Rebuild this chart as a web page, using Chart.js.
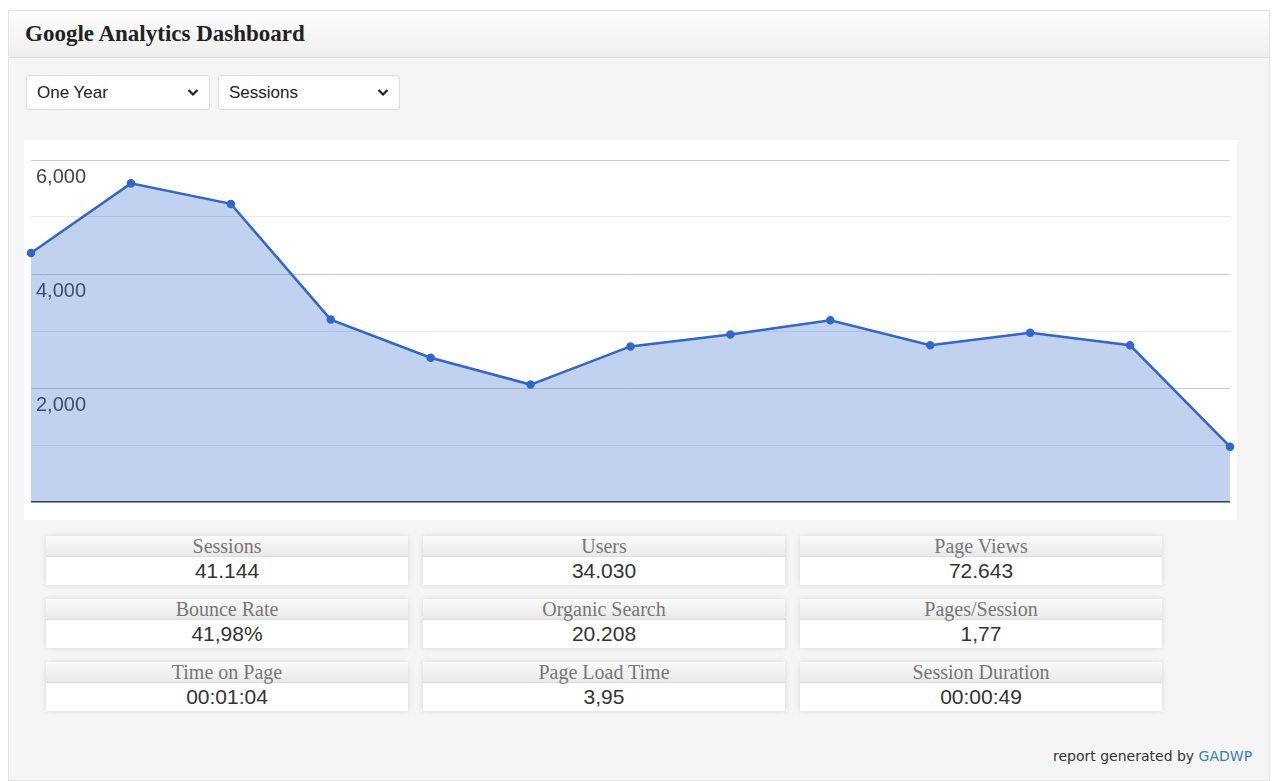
<!DOCTYPE html>
<html>
<head>
<meta charset="utf-8">
<script src="https://cdn.jsdelivr.net/npm/chart.js@4.4.1/dist/chart.umd.min.js"></script>
<style>
  body { margin: 0; background: #fff; font-family: Arial, "Liberation Sans", sans-serif; }
  #panel { position: absolute; left: 8px; top: 10px; width: 1262px; height: 771px; background: #f5f5f5; border: 1px solid #e2e2e2; box-sizing: border-box; }
  #head { position: absolute; left: 0; top: 0; right: 0; height: 46px; background: linear-gradient(#fdfdfd, #efefef); border-bottom: 1px solid #dedede; }
  #head h2 { margin: 0; position: absolute; left: 16px; top: 10px; font: 600 23px "Liberation Serif", "DejaVu Serif", serif; color: #222; }
  .sel { position: absolute; top: 64px; height: 35px; background: #fff; border: 1px solid #dcdcdc; border-radius: 3px; box-sizing: border-box; font-size: 17px; color: #222; line-height: 33px; padding-left: 10px; }
  .sel svg { position: absolute; right: 10px; top: 12px; }
  #chartBox { position: absolute; left: 15px; top: 129px; width: 1213px; height: 380px; background: #fff; }
  .stat { position: absolute; width: 362px; height: 49px; box-shadow: 0 0 6px rgba(0,0,0,0.12); }
  .stat .t { height: 20px; background: linear-gradient(#fbfbfb, #e9e9e9); border-bottom: 1px solid #dcdcdc; text-align: center; font: 20px "Liberation Serif", "DejaVu Serif", serif; color: #777; line-height: 20px; }
  .stat .v { height: 28px; background: #fff; text-align: center; font-size: 21px; color: #333; line-height: 27px; }
  #foot { position: absolute; left: 1044px; top: 737px; font: 14px "DejaVu Sans", Verdana, sans-serif; color: #333; }
  #foot span { color: #3a7fb2; }
</style>
</head>
<body>
<div id="panel">
  <div id="head"><h2>Google Analytics Dashboard</h2></div>
  <div class="sel" style="left:17px;width:184px">One Year
    <svg width="12" height="9" viewBox="0 0 12 9"><path d="M1.5 2 L6 6.5 L10.5 2" stroke="#222" stroke-width="2.2" fill="none"/></svg></div>
  <div class="sel" style="left:209px;width:182px">Sessions
    <svg width="12" height="9" viewBox="0 0 12 9"><path d="M1.5 2 L6 6.5 L10.5 2" stroke="#222" stroke-width="2.2" fill="none"/></svg></div>
  <div id="chartBox"><canvas id="chart"></canvas></div>
  <div id="stats"></div>
  <div id="foot">report generated by <span>GADWP</span></div>
</div>
<script>
const months = ['Jan', 'Feb', 'Mar', 'Apr', 'May', 'Jun', 'Jul', 'Aug', 'Sep', 'Oct', 'Nov', 'Dec', 'Jan'];
const sessions = [4370, 5590, 5230, 3200, 2530, 2060, 2730, 2940, 3190, 2750, 2970, 2750, 970];
const yTicks = [2000, 4000, 6000];

const statNames = ['Sessions', 'Users', 'Page Views', 'Bounce Rate', 'Organic Search', 'Pages/Session', 'Time on Page', 'Page Load Time', 'Session Duration'];
const statValues = ['41.144', '34.030', '72.643', '41,98%', '20.208', '1,77', '00:01:04', '3,95', '00:00:49'];

const stats = document.getElementById('stats');
statNames.forEach((name, i) => {
  const d = document.createElement('div');
  d.className = 'stat';
  d.style.left = (37 + (i % 3) * 377) + 'px';
  d.style.top = (525 + Math.floor(i / 3) * 63) + 'px';
  d.innerHTML = '<div class="t">' + name + '</div><div class="v">' + statValues[i] + '</div>';
  stats.appendChild(d);
});

const ctx = document.getElementById('chart');
ctx.width = 1213;
ctx.height = 380;

new Chart(ctx, {
  type: 'line',
  data: {
    labels: months,
    datasets: [{
      label: 'Sessions',
      data: sessions,
      borderColor: '#3366cc',
      backgroundColor: 'rgba(51,102,204,0.3)',
      borderWidth: 2.5,
      fill: 'origin',
      tension: 0,
      pointRadius: 3,
      pointBackgroundColor: '#3366cc',
      pointBorderColor: '#3366cc'
    }]
  },
  options: {
    responsive: false,
    animation: false,
    layout: { padding: { left: 7, right: 7, top: 20, bottom: 18 } },
    plugins: { legend: { display: false }, tooltip: { enabled: false } },
    scales: {
      x: { display: false },
      y: {
        min: 0,
        max: 6000,
        border: { display: false },
        afterFit: (s) => { s.width = 0; },
        grid: {
          drawTicks: false,
          color: (c) => c.tick.value === 0 ? '#333' : (yTicks.includes(c.tick.value) ? '#cccccc' : '#e8e8e8'),
          lineWidth: (c) => c.tick.value === 0 ? 1.5 : 1
        },
        ticks: {
          stepSize: 1000,
          mirror: true,
          padding: 5,
          labelOffset: 17,
          color: '#444',
          textStrokeColor: '#fff',
          textStrokeWidth: 3,
          font: { family: 'Arial', size: 20 },
          callback: (v) => yTicks.includes(v) ? v.toLocaleString('en-US') : ''
        }
      }
    }
  }
});
</script>
</body>
</html>
